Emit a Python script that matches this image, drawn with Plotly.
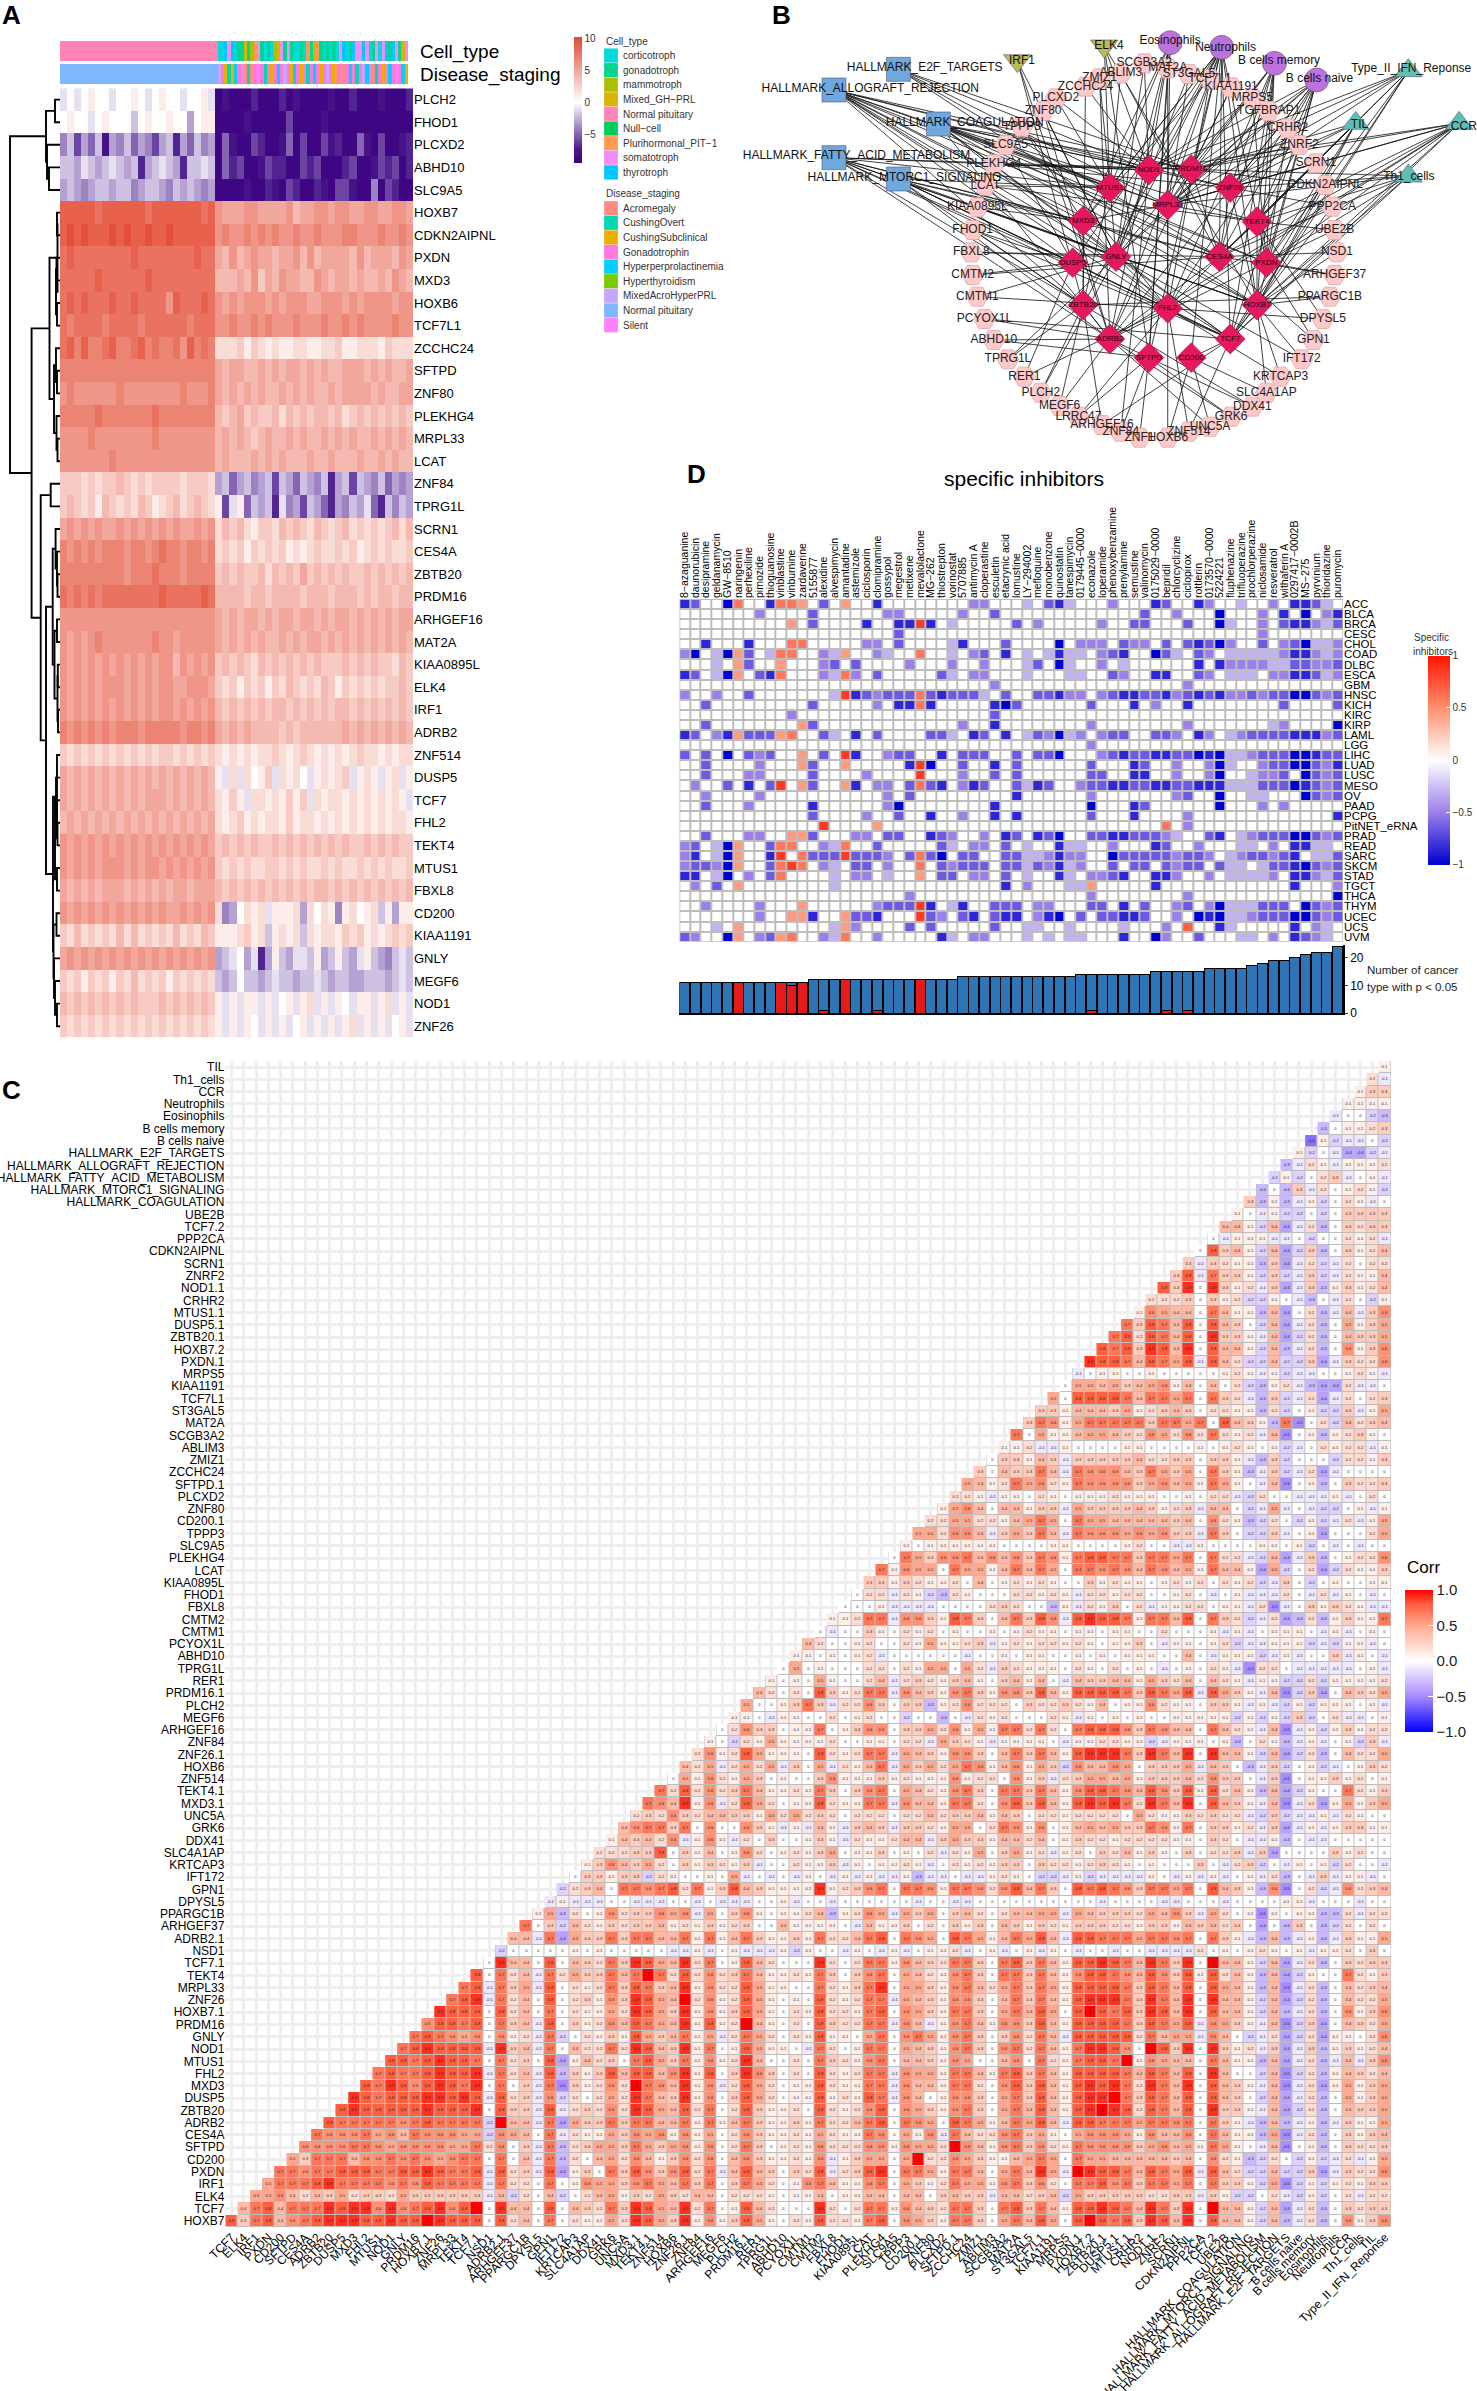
import plotly.graph_objects as go

W, H = 1477, 2391
FONT = "Liberation Sans"

# ---------------- PANEL A data ----------------
A_GENES = ["PLCH2","FHOD1","PLCXD2","ABHD10","SLC9A5","HOXB7","CDKN2AIPNL","PXDN","MXD3","HOXB6","TCF7L1","ZCCHC24","SFTPD","ZNF80","PLEKHG4","MRPL33","LCAT","ZNF84","TPRG1L","SCRN1","CES4A","ZBTB20","PRDM16","ARHGEF16","MAT2A","KIAA0895L","ELK4","IRF1","ADRB2","ZNF514","DUSP5","TCF7","FHL2","TEKT4","MTUS1","FBXL8","CD200","KIAA1191","GNLY","MEGF6","NOD1","ZNF26"]
A_LEFT = ["a0a0100a0010a0100a001a","0100a01000b0100100c011","dbfcebhcdbecdfcbgcebdc","bbcabcbabcbgcbabcgbbab","cbcdcbbcbbdcbbcdbcbcdc","9999989999998999999989","9X9X999X9X99X99X999999","8988888888988888888988","8888898888889888888888","8989888988988886988898","8788887888878888887888","8979778977897877869787","7777777777777777777777","6766666676666666676667","7777787777777877777777","6666766666666766666666","6666666766666666666666","3332323343232333323332","3432314323243123423432","5656565565656565655656","7676767776776787767767","7777777776777877767777","8787878888888898888898","6666666666666666666666","6565676666666766566666","6565656565656566465656","6565656665656566556665","6565656565656566565656","7676767677767777767767","3232323232323233232323","5454545454545454545454","5454545454545554545454","4545454545454545454545","6565656565656565656565","6565656665656656565656","5454545554545454554555","6565656565656565565656","3242323242423232423243","5656565656565656565656","3231323132423231323232","4343434343433343434343","3232323232323232323232"]
A_RIGHT = ["ihiiigiiigihiiiihiigiiihiiig","iiiihiiiiifiiiihiiiiiiiiiiii","iehiifgiiheifiifhgiiehifiihg","iegfiihfggiifgfiiigfiihfgfig","iiiihiighifgiighiffhiidifgii","6555665555645566566556655665","6766767676676676667766676676","5464565545564645555464555465","4445463546554465455454454654","6565666565666556665656666566","6676676766676667667676666766","2223132121122112231122213222","5455445454554545445554545445","5454545445454544545555454455","4345343342434344342343434343","4545434544545445454544545454","4544454545444544544454454544","cbecbdcbfbcebcdbgcbfbcdbecdc","1fa1ebcbgadcfbcegcdbcaegbdbc","2434213324343243234232323424","2323132323121232232312323223","3434334243435343434334343434","4444344344443444344434344344","5454554545545545455454545455","5454545445454554545454545454","3434324343434343334343433243","3231323132432324313232323343","4343434344343434344343434343","5454544443434444445454545454","2121212232123212121232212122","1a2a2013a2120a12123a121a12a1","2131a22121313a2122121212121a","2123121221312212121212121221","3434343343434343434334343433","3232322332323223232232323223","4343434343434344343434343434","2dc0212a1112c2021d12012b1c11","1112312b1212b212213231212323","cba0cagc1bcaab1cb1bca1bcdbab","bcb0bbcbabbcbbabcbbccbbbcbab","1a1a11a1a01a12a1a10a11a12a1a","1a1a10a1a1a01a1a1a12a1a1a01a"]
CELL_TYPES = ["corticotroph","gonadotroph","mammotroph","Mixed_GH−PRL","Normal pituitary","Null−cell","Plurihormonal_PIT−1","somatotroph","thyrotroph"]
CELL_COLORS = ["#00DADA","#00D68F","#AEBF00","#D6B400","#FF83B4","#00CC5C","#FF9B50","#F28CF6","#00C8FF"]
STAGES = ["Acromegaly","CushingOvert","CushingSubclinical","Gonadotrophin","Hyperperprolactinemia","Hyperthyroidism","MixedAcroHyperPRL","Normal pituitary","Silent"]
STAGE_COLORS = ["#FF8C84","#00D8B0","#EEAE00","#FF78DC","#00CFFF","#78CC00","#C6A4FF","#7EB6FF","#FF80FF"]
CELL_LEFT, STAGE_LEFT = 4, 7
CELL_RIGHT = [0,0,8,7,8,0,1,1,3,1,2,6,7,1,0,1,0,2,3,7,1,7,1,0,0,1,0,6,1,3,6,1,0,1,0,1,0,7,8,0,1,8,7,7,8,7,0,1,7,0,7,8,1,8,7,1,3,7]
STAGE_RIGHT = [6,3,2,1,2,4,3,8,0,1,0,3,8,3,1,3,2,3,4,3,6,3,2,4,3,2,3,1,3,4,3,2,3,6,3,2,0,3,0,3,4,3,1,3,6,4,3,0,1,3,2,3,4,3,8,3,4,2]

# hierarchical tree of panel A: (height, child, child); leaves are row numbers
A_TREE = (50, (14, (5, 0, 1), (13, 2, (11, 3, 4))),
          (28.4,
           (10.5, (2.5, (3, 5, 6), (4, (3.5, 7, 8), (3, 9, 10))), (6, (4, 11, (3, 12, 13)), (3.5, 14, (2.5, 15, 16)))),
           (19.3, (9.3, 17, 18),
            (14, (7.3, (4.4, 19, (3, 20, (2.5, 21, 22))), (5.5, (3, 23, 24), (2.5, (2.2, 25, 26), (2, 27, 28)))),
             (7, (3, 29, (5, (4, 30, (3, 31, (2.5, 32, 33))), (3, 34, 35))), (6.5, (3.5, 36, 37), (6, 38, (5, 39, (3, 40, 41)))))))))

# ---------------- PANEL B data ----------------
HUBS = ["NOD1","PRDM16","MTUS1","ZNF26","MRPL33","MXD3","TEKT4","GNLY","CES4A","DUSP5","PXDN","ZBTB20","FHL2","HOXB7","ADRB2","TCF7","SFTPD","CD200"]
HUB_X = [870,960,787,1043,910,730,1100,800,1020,708,1120,730,910,1100,787,1043,870,960]
HUB_Y = [510,508,563,563,615,663,665,770,770,788,788,915,925,915,1017,1017,1073,1073]
RING = ["PLCXD2","ZNF80","TPPP3","SLC9A5","PLEKHG4","LCAT","KIAA0895L","FHOD1","FBXL8","CMTM2","CMTM1","PCYOX1L","ABHD10","TPRG1L","RER1","PLCH2","MEGF6","LRRC47","ARHGEF16","ZNF84","ZNF1","HOXB6","ZNF514","UNC5A","GRK6","DDX41","SLC4A1AP","KRTCAP3","IFT172","GPN1","DPYSL5","PPARGC1B","ARHGEF37","NSD1","UBE2B","PPP2CA","CDKN2AIPNL","SCRN1","ZNRF2","CRHR2","TGFBRAP1","MRPS5","KIAA1191","TCF7L1","ST3GAL5","MAT2A","SCGB3A2","ABLIM3","ZMIZ1","ZCCHC24"]
RING_X = [672,645,600,565,540,522,505,495,492,495,505,520,540,570,605,640,680,720,770,810,850,910,955,1000,1045,1090,1120,1150,1195,1220,1240,1255,1265,1270,1265,1260,1245,1225,1190,1165,1125,1090,1045,1000,955,910,860,810,765,735]
RING_Y = [295,333,380,435,493,557,622,690,757,825,890,957,1020,1078,1130,1178,1218,1250,1275,1295,1313,1313,1295,1280,1250,1220,1178,1130,1078,1020,957,890,825,757,690,620,555,490,435,385,333,295,262,238,222,205,190,220,235,260]
RING_LINKS = [[2,0],[7,14],[5,12],[2,9],[0,1,3],[2,6],[5,13],[11,15,9],[7,8],[9,8],[7,12],[14,15],[16,14],[11,7],[12,9],[7,11],[11,14],[16,12],[15,11],[16,0],[16],[17,4],[15,12],[14,17],[14,16],[16,11],[13,17],[13,12],[13,7],[10,8],[6,12],[13,11],[8,10],[8,13],[6,10],[3,15],[1,13],[4,8],[1,6],[3,10],[4,7],[0,10],[1,14],[12,5],[7,4],[4,16],[0,7],[2,8],[2,14],[0,11]]
OUTER = ["HALLMARK_E2F_TARGETS","HALLMARK_ALLOGRAFT_REJECTION","HALLMARK_COAGULATION","HALLMARK_FATTY_ACID_METABOLISM","HALLMARK_MTORC1_SIGNALING","IRF1","ELK4","Eosinophils","Neutrophils","B cells memory","B cells naive","Type_II_IFN_Reponse","TIL","CCR","Th1_cells"]
OUTER_X = [337,200,422,200,337,590,775,915,1025,1137,1227,1422,1310,1530,1422]
OUTER_Y = [208,270,372,473,537,182,138,128,142,190,240,212,370,370,528]
OUTER_LABEL_X = [393,277,478,248,350,600,785,915,1033,1147,1233,1428,1318,1540,1423]
OUTER_LABEL_Y = [203,267,368,467,535,182,138,122,145,183,238,208,375,382,532]
OUTER_SYMBOL = ["square"]*5 + ["triangle-down"]*2 + ["circle"]*4 + ["triangle-up"]*4
OUTER_COLOR = ["#6FA8DC"]*5 + ["#BDBB52"]*2 + ["#BD72DC"]*4 + ["#5FBFB5"]*4
OUTER_LINKS = [[0,1,4,8,13],[0,1,2,3,4,5,7,8,9,10,11,12,13,15],[0,1,2,3,4,6,7,8,10,12,13,14,15],[0,1,2,5,7,8,9,11,13,14,15],[2,5,8,9,11,12,13,14,15],[7,11,14],[0,2,13,16],[0,2,4,5,7,14,16],[0,1,2,4,5,7,8,9,10,11,13,14,15,16,17],[1,3,4,6,7,8,10,12,13,15],[0,1,3,4,6,7,8,10,12,13,14,15],[0,1,3,4,6,8,10,13,15],[1,3,4,6,8,10,13,15],[0,1,3,4,6,8,10,12,13,14,15],[1,3,4,6,8,10,13,15]]
HUB_LINKS = [[1,4],[3,4],[4,5],[4,6],[5,7],[6,8],[7,12],[8,12],[11,14],[13,15],[14,16],[15,17],[7,15],[8,14],[2,7],[3,8],[9,15],[10,14],[0,7],[1,8],[2,11],[3,13],[4,12],[5,11],[6,13]]

# ---------------- PANEL C data ----------------
C_ROW_LABELS = ["TIL","Th1_cells","CCR","Neutrophils","Eosinophils","B cells memory","B cells naive","HALLMARK_E2F_TARGETS","HALLMARK_ALLOGRAFT_REJECTION","HALLMARK_FATTY_ACID_METABOLISM","HALLMARK_MTORC1_SIGNALING","HALLMARK_COAGULATION","UBE2B","TCF7.2","PPP2CA","CDKN2AIPNL","SCRN1","ZNRF2","NOD1.1","CRHR2","MTUS1.1","DUSP5.1","ZBTB20.1","HOXB7.2","PXDN.1","MRPS5","KIAA1191","TCF7L1","ST3GAL5","MAT2A","SCGB3A2","ABLIM3","ZMIZ1","ZCCHC24","SFTPD.1","PLCXD2","ZNF80","CD200.1","TPPP3","SLC9A5","PLEKHG4","LCAT","KIAA0895L","FHOD1","FBXL8","CMTM2","CMTM1","PCYOX1L","ABHD10","TPRG1L","RER1","PRDM16.1","PLCH2","MEGF6","ARHGEF16","ZNF84","ZNF26.1","HOXB6","ZNF514","TEKT4.1","MXD3.1","UNC5A","GRK6","DDX41","SLC4A1AP","KRTCAP3","IFT172","GPN1","DPYSL5","PPARGC1B","ARHGEF37","ADRB2.1","NSD1","TCF7.1","TEKT4","MRPL33","ZNF26","HOXB7.1","PRDM16","GNLY","NOD1","MTUS1","FHL2","MXD3","DUSP5","ZBTB20","ADRB2","CES4A","SFTPD","CD200","PXDN","IRF1","ELK4","TCF7","HOXB7"]
C_COL_LABELS = C_ROW_LABELS[-2::-1] + ["Type_II_IFN_Reponse"]
# one character per cell, tenths of a correlation: digits positive, a-f negative, X = 1, . = 0
C_CELLS = [
"1",
"2 a",
"1 3 3",
"1 1 1 1",
"a . . b c",
"c . 1 1 2 3",
"f 1 b a a . b",
"1 b . a d d b a",
"c a 2 1 a 1 1 1 2",
"b 1 b . 2 3 a . 1 a",
"c . c 3 a 2 . 1 2 1 b",
"3 c 1 c a 1 b . 2 1 a .",
"1 . a 1 b b . b . 3 3 3 3",
"4 4 1 b 4 d a 2 c . 3 2 3 3",
". a 1 1 1 a a . b . . 2 1 2 a",
". 8 3 4 1 b 4 d b 3 c . 3 1 2 4",
"3 a 3 2 1 1 c 3 d a 2 b a 2 . 2 2",
"3 8 a 7 3 3 1 b 3 b a 3 b a 2 1 1 4",
"8 3 9 . 9 3 1 2 a 3 d a 3 c 1 3 1 2 4",
"2 2 2 3 . 3 1 2 b b 1 . a c . a 2 . b 1",
"1 6 5 4 4 . 7 4 1 1 c 4 d . 2 c a 4 a 3 6",
"7 3 8 7 4 8 . 8 4 3 . b 4 d a 2 c . 5 1 3 5",
"7 8 2 8 7 4 8 . 9 3 3 1 a 4 d b 2 c . 4 3 3 5",
"8 7 8 3 9 8 4 9 . 8 4 4 1 b 4 c a 2 c . 6 1 3 6",
"9 8 8 7 4 8 7 5 8 a 8 4 2 b b 4 b b 3 d a 3 2 2 6",
"a . 1 1 . . 1 . . . . . 1 2 1 a 1 b a a . . 1 2 1 a",
". 5 5 4 5 3 4 5 6 1 4 . 4 . 2 b c 1 2 a c d d 2 a a .",
"5 . 8 8 8 8 7 4 7 7 5 7 . 7 3 2 a c 3 b a 2 d a 2 . 2 3",
"3 3 1 4 4 4 3 5 1 2 3 4 3 . 2 2 1 1 c 2 b . 1 b b 3 a 1 5",
"3 7 6 1 5 7 7 7 7 7 3 7 7 5 7 . 8 4 3 1 c 7 e . 2 b 4 2 3 4",
"7 . 5 1 1 4 5 5 4 3 2 6 5 2 6 2 7 2 1 2 a 4 e . 1 c 1 2 3 1 .",
"1 1 2 a a 1 . . . . 1 1 . . . . 1 . 1 2 1 . 1 b a . 2 1 2 2 a 1",
". 3 3 1 4 3 a 3 3 3 3 3 4 2 2 3 3 . 3 3 1 a c 3 b . . . b 2 2 1 3",
"3 . 4 3 3 7 4 a 7 6 6 6 4 3 7 5 3 5 . 7 3 1 c a 3 b a 2 d a . . . .",
"5 4 1 2 7 5 6 2 1 7 6 6 6 6 3 5 6 4 5 1 7 5 1 . a 4 e . 1 c . 3 2 2 3",
"2 2 1 a 1 1 . 2 1 . 1 1 1 2 1 1 1 . . 1 . 2 2 a b 2 . . a a a 1 a . 2 .",
"1 5 6 4 . 4 4 1 3 3 a 5 3 3 3 3 4 3 1 2 3 a 4 4 . b a 5 a . a b b . 1 a 1",
"2 2 5 5 2 2 1 4 5 7 5 . 7 5 5 4 4 4 4 4 3 4 . 6 2 1 c b 2 . b 1 b a 2 a 1 5",
"5 5 2 6 6 4 a 3 5 3 7 4 a 7 6 6 6 5 6 5 6 3 3 a 7 3 . b b 3 a . 1 d . . . 2 5",
"1 . 1 1 1 1 1 1 . . . . 1 1 . . . . 1 2 . . a a 1 . . . . 1 1 . 1 b . a . a . .",
". 7 5 3 6 6 7 4 6 4 6 3 7 6 1 7 8 8 7 7 3 7 7 5 7 . 7 2 2 a b 4 d a 3 c . 1 2 2 6",
"7 1 6 5 5 . 7 5 5 1 4 7 4 7 5 . 7 7 6 7 6 4 7 6 4 5 1 7 4 4 1 d 5 b . 2 d b 2 1 1 3",
"3 3 1 3 2 1 1 2 . 4 . 1 2 1 2 1 . . 3 1 2 1 1 . 1 2 1 2 . 2 1 2 b a 3 . b . 1 . . 1 1",
". 2 2 a 2 1 b c 2 1 . . . 2 2 1 2 1 a 2 2 1 2 2 . . 1 2 . a . 1 a a a 2 . a 2 a 1 . a .",
". . . 1 a a a a . . . . 2 3 2 . . c 1 a 2 1 3 . 2 a 1 1 2 2 . 1 1 a 2 e a . 3 1 3 2 1 a a",
"1 1 2 7 7 a 6 6 3 1 8 7 3 . 4 7 3 8 6 a 8 9 8 8 7 1 7 7 4 8 . 7 3 2 b a 2 d c 2 c 1 3 1 1 7",
". a . . 3 1 . 2 1 2 . 1 . . 1 . 1 2 1 1 . 1 1 . 1 1 . . 2 . . . 1 a 1 a . 1 1 1 . a 1 a . 1 .",
"4 2 . . 1 2 . . 2 1 5 1 1 2 3 a 1 2 1 2 2 1 2 1 . 1 1 3 . a 1 1 . 1 2 b a a 1 1 1 b a b 1 1 a .",
"1 1 . 1 . 1 2 a . . . . . . a . . 1 . 1 1 . . 1 . 1 . 1 1 1 . . 4 . a 1 1 1 b a 1 a . . 3 a 1 . a",
". 5 . 1 . . . 2 2 . 2 1 5 5 . 5 2 a 3 2 1 1 1 . 2 1 . 2 . 1 . a . 1 . 2 1 a e 2 2 . a a a a a . 1 a",
"1 . 1 . 5 1 . . 2 4 a 2 3 2 1 3 4 1 . 3 4 1 4 . a 4 3 3 4 4 1 5 3 2 4 . 4 2 1 a 1 1 b b 2 b 1 1 1 1 2",
"4 2 . 2 . 8 3 1 2 7 7 a 6 4 3 1 6 7 3 1 6 6 3 8 4 1 8 8 8 8 7 3 8 7 5 8 a 8 5 3 1 a 4 e b 3 d . 4 3 2 5",
"5 . . 1 3 7 3 a 2 2 6 3 . 3 3 c 1 2 6 2 2 2 . 3 2 2 3 2 1 4 . 1 1 6 2 1 1 . 3 3 1 a 1 a b 1 b 1 1 1 . 1 a",
"1 1 . a 1 1 . . 2 . 1 2 . . b . . c . a 2 1 2 . . . 2 1 a 1 . 1 . 1 . . 1 1 1 1 1 b 1 b 1 b 3 b . 2 a a . 1",
". 2 6 3 3 . 1  1 7 . 1 3 6 6 . 3 3 5 2 6 1 5 1 7 7 2 7 2 . 7 8 8 8 6 3 7 6 4 4 . 7 4 2 1 a 4 e a 1 b 1 3 1 2 2",
"1 . b 2 1 5 1 1  1 1 2 . . 1 1 . 2 2 a 5 3 2 1 a 1 1 1 1 . a 1 1 2 2 1 1 b a 1 1 1 . 1 c . 2 1 c a 1 a . 1 b 3 a",
"2 6 1 2 8 5 1 1 1  . 8 2 1 2 7 7 a 5 4 3 1 6 6 3 . 4 7 3 7 4 1 8 9 9 9 7 3 9 7 4 9 . 9 4 4 1 b 4 d b 2 c . 4 2 2 5",
"4 2 5 a 2 5 2 5 a 3  . 5 a 2 1 4 7 a 5 3 5 2 5 7 6 1 4 6 1 5 3 b 6 4 4 6 5 . 3 3 3 5 a 4 3 . c a 3 b . 1 b a . 1 3 2",
". 5 1 6 2 1 5 3 . 1 .  . 3 6 1 1 1 3 1 2 1 1 1 6 1 2 2 . 6 1 3 a 2 3 5 5 4 5 1 3 3 3 4 2 6 3 3 . a 3 e . 1 1 3 1 2 . 1",
"7 2 8 2 6 2 3 7 4 1 1 2  1 7 3 . 3 6 7 . 5 4 2 1 6 7 3 . 7 7 3 7 4 1 6 8 8 7 6 4 8 6 3 8 1 8 2 4 1 c 4 d b 1 . . 7 2 1 3",
"7 6 4 9 1 6 a 2 8 5 2 . 1  1 8 2 1 1 7 7 a 6 4 4 1 7 7 2 . 6 8 3 8 4 1 8 9 8 9 7 2 9 7 4 9 . 8 4 3 1 a 4 e a 2 d 1 5 1 3 5",
"2 3 2 6 3 2 4 4 3 3 1 5 2 5  2 3 2 . 2 2 2 . 2 2 4 2 3 3 4 1 4 3 . 2 2 1 2 2 2 2 . 5 2 1 1 3 2 3 2 2 a b 3 b a a 1 a 2 1 . .",
"4 6 7 7 3 7 . 6 . . 6 3 1 a 1  a 4 1 a 3 4 3 a 3 3 2 1 5 5 . 2 7 6 1 6 . 1 4 5 4 5 3 3 7 6 1 7 . 3 3 1 2 a 3 d a 1 a 1 3 3 1 1",
"1 4 3 4 2 6 a 1 6 1 a 2 . 3 . .  1 3 1 a 2 1 1 2 4 4 a 3 5 3 3 1 4 4 2 4 . 1 3 2 2 1 2 2 2 2 1 1 . 3 2 . a a 1 c . a a . . . . .",
"2 2 2 3 3 8 . 3 1 4 . 1 6 2 . 1 2  1 3 5 . 1 1 3 . 1 . 2 a 2 1 5 . 3 5 1 2 a 1 2 . 3 2 4 1 3 1 . 3 . 2 2 3 a 3 d . . . . 3 1 2 . .",
"1 3 6 4 3 5 2 . 3 1 3 2 1 3 a . . 2  1 1 3 a 1 . 1 1 2 1 a . 2 1 2 1 3 3 . 3 2 2 1 2 3 2 1 . 1 . . . 3 . a 2 3 b . a 1 . 1 b 2 . . a",
"3 3 1 3 3 b 2 1 . . 1 . 5 a . a . a 1  . a 1 a 1 a a 1 c a a . a a 1 2 1 . b b a 1 b a a a a 1 . a 1 a 1 a . 1 a 2 c . a 3 a 1 1 a .",
"b 2 3 4 . 7 7 6 7 8 2 7 1 3 8 4 3 1 1 1  1 9 1 2 3 6 7 . 7 7 6 1 7 7 6 2 6 8 4 7 3 . 8 7 8 7 6 3 7 7 5 7 . 8 4 3 1 c 6 e . 2 b a 6 2 3 4",
"a 1 a a a . . a a a . . a . a a a . . 1 a  . . a . . . . . . a . . a a . . . . . . . . . . a . . . . a a . . . a . . . . 1 1 a . . . a . .",
"1 5 c 2 . 1 6 2 3 3 6 5 6 a 5 . 3 6 1 . 1 1  2 4 c 1 2 6 5 a 5 3 5 . 3 4 2 . 2 4 4 5 5 a 5 4 3 3 3 2 5 4 6 3 a 5 2 . 1 e 1 . 1 1 c c 2 a 2 2",
"7 . 3 b 4 2 1 3 2 3 3 4 1 2 1 3 1 2 3 . . 4 1  1 1 1 . a 4 1 1 3 . 2 . 3 1 3 . 4 3 1 3 2 1 3 3 3 2 2 1 3 3 1 4 3 4 2 3 . d . c 3 . c b 2 . 2 .",
"4 4 a 7 d 5 3 3 7 3 7 7 4 4 7 1 7 1 4 7 3 1 1 3  1 7 2 2 4 7 8 . 7 6 5 . 8 7 5 1 4 7 5 8 4 a 8 8 7 7 7 5 7 7 6 7 . 7 3 1 a c 4 c a 1 c a 3 1 1 5",
"b . . . . . 1 . 1 . . . . . a a 1 a . 1 a a a 1 b  1 . . a 1 . a 1 a . 1 1 2 a . 1 a . 1 a 1 . a . . a . . a a a a 2 . 1 . 1 2 1 . 1 a 1 1 2 . 3 .",
". 9 4 4 . 8 . 4 3 2 7 3 9 8 5 4 9 2 7 . 1 8 4 2 . .  0 9 2 0 2 7 7 1 6 4 3 2 7 7 3 . 7 8 3 7 4 1 8 8 9 8 7 4 9 7 3 9 . X 4 4 1 b 4 d a 2 c . 3 2 3 3",
"8 . 7 2 4 a 7 2 5 3 3 7 4 7 X 7 2 8 2 6 2 3 7 4 1 1 2  1 7 3 . 3 6 7 . 5 4 2 1 6 7 3 . 7 7 3 7 4 1 6 8 8 7 6 4 8 6 3 8 1 8 2 4 1 c 4 d b 1 . . 7 2 1 3",
"7 8 a 7 3 5 a 8 . 2 1 2 7 3 8 7 3 4 9 1 6 2 2 8 5 1 1 .  . 7 2 1 3 7 9 . 5 5 3 1 6 7 4 2 5 7 3 7 5 1 8 8 8 8 7 3 8 7 4 8 . 8 5 4 1 c 4 e a 2 c . 4 2 3 4",
"7 8 9 a 7 2 4 . 8 . 2 3 1 6 3 9 8 5 4 X 2 6 1 2 8 5 1 . 1  . 8 2 1 2 7 7 a 5 4 3 1 6 6 3 . 4 7 3 7 4 1 8 9 9 9 7 3 9 7 4 9 . 9 4 4 1 b 4 d b 2 c . 4 2 2 5",
"9 8 8 8 . 8 2 4 . 7 . 2 1 1 5 2 9 8 5 3 9 1 6 1 3 8 5 1 . 2  1 8 2 2 1 7 8 . 6 5 3 1 7 7 3 . 5 7 4 8 5 . 8 X 8 7 8 3 9 8 4 9 . 8 4 4 1 b 4 c a 2 c . 6 1 3 6",
"6 8 8 7 8 . 7 3 4 a 8 . 3 1 2 6 4 8 7 5 4 9 1 8 1 2 X 4 1 . 2  . 8 3 2 2 7 7 a 6 4 a 1 6 7 4 1 6 6 3 8 4 1 8 8 8 8 7 3 8 7 5 8 a 6 5 3 1 a 4 e b 3 d . 4 3 2 5",
"7 8 7 6 5 6 . 6 1 2 a 7 b . 2 1 3 1 8 5 3 4 7 1 5 a 2 7 5 2 . 2  1 8 1 1 . 5 7 . 6 7 5 1 6 7 3 . 3 6 2 7 4 a 8 8 8 8 8 2 7 4 5 5 a 6 4 . b a 2 d b 2 d 1 1 . 2 6",
"7 8 9 8 8 8 8 a 9 3 4 a 7 . 4 2 2 7 2 9 8 4 3 9 1 7 . 1 8 5 1 1 .  a 7 2 . 1 7 7 . 5 4 3 1 6 7 3 . 6 7 2 7 4 1 7 9 9 8 6 . X 8 3 9 . 9 3 1 2 a 3 d a 3 c 1 3 1 2 4",
"8 8 7 8 9 8 8 7 . 7 2 3 . 8 d 1 4 2 3 . 7 8 5 3 7 1 6 1 2 9 4 . . 2  . 7 3 2 1 6 7 . 4 4 3 1 6 5 . . 4 6 . 7 2 1 7 8 8 7 X 1 6 5 4 4 . 7 4 1 1 c 4 d a 2 c a 4 a 3 6",
"7 8 7 7 8 9 8 8 9 a 7 2 4 a 8 c 3 1 3 8 4 8 8 4 6 9 1 8 . 3 9 6 3 . 2  . 8 2 1 2 7 7 a 6 5 5 1 7 7 4 1 7 8 3 7 4 1 8 8 8 8 7 4 8 7 4 8 . 9 4 . . b 4 e b 2 c 1 4 3 2 4",
"8 7 9 8 6 8 9 8 7 9 . 7 . 3 a 7 e 3 1 2 6 2 X 7 6 4 9 1 6 a 2 8 5 2 . 1  1 8 2 1 1 7 7 a 6 4 4 1 7 7 2 . 6 8 3 8 4 1 8 9 8 9 7 2 9 7 4 9 . 8 4 3 1 a 4 e a 2 d 1 5 1 3 5",
"9 8 7 8 8 8 9 9 8 9 8 a 8 2 3 a 6 b 2 . 2 5 2 9 7 4 3 9 1 6 . 3 8 5 2 . 1  1 8 1 2 1 8 7 a 6 4 . 1 6 6 3 . 5 7 3 8 4 1 8 9 9 X 7 3 8 7 4 8 . 8 4 3 . b 4 d a 2 c . 5 1 3 5",
"8 9 8 8 8 8 8 9 8 8 8 9 . 8 3 3 a 8 a 2 3 2 6 2 9 8 5 4 8 2 7 . 2 8 3 1 1 2  . 8 2 1 2 6 8 . 6 5 3 1 6 7 3 . 5 7 4 8 4 1 8 9 X 9 8 2 8 7 4 8 . 9 3 3 1 a 4 d b 2 c . 4 3 3 5",
"8 7 7 7 7 7 6 7 8 7 7 7 7 b X 4 4 a 7 d 5 3 3 7 3 7 7 4 4 7 1 7 1 4 7 3 1 1 3  1 7 2 2 4 7 8 . 7 6 5 . 8 7 5 1 4 7 5 8 4 a 8 8 7 7 7 5 7 7 6 7 . 7 3 1 a c 4 c a 1 c a 3 1 1 5",
"7 6 6 6 7 5 6 4 7 6 6 6 5 5 b 6 5 4 . 7 a 2 1 1 5 3 6 5 6 1 6 1 5 . 2 6 3 1 1 2  1 5 2 1 1 7 6 . 5 1 6 a 7 4 2 2 6 7 3 5 1 . 5 6 6 6 5 1 6 4 4 6 . 7 4 1 1 c 5 e a 2 c . 3 1 3 4",
"6 6 6 6 7 7 6 5 6 6 6 6 5 5 7 2 6 . 3 a 7 c 2 3 5 5 3 7 5 3 5 6 1 6 . 2 7 3 . 1 2  1 6 2 2 2 6 6 1 6 5 5 2 X 6 4 1 6 7 3 6 2 1 7 6 6 6 6 3 5 6 4 5 1 7 5 1 . a 4 e . 1 c . 3 2 2 3",
"5 3 7 7 7 4 6 6 7 6 7 6 5 6 7 7 . 7 . 4 a 7 c 2 . 4 5 2 6 4 1 3 6 2 6 . 4 6 3 1 1 2  1 6 a 1 3 5 5 . 5 X 2 2 6 5 3 1 1 4 5 7 5 . 7 5 5 4 4 4 4 4 3 4 . 6 2 1 c b 2 . b 1 b a 2 a 1 5",
"7 7 6 7 7 8 8 8 7 7 8 8 9 8 7 7 8 a 8 2 3 a 8 d 1 3 . 7 3 8 6 3 6 8 2 7 a 4 8 4 3 . 3  2 8 a 2 3 8 9 . 7 7 5 1 7 7 4 . 5 7 4 9 5 a X 9 8 8 7 4 8 7 5 8 a 8 4 2 b b 4 b b 3 d a 3 2 2 6",
"7 5 7 7 7 8 9 7 7 7 7 6 7 6 8 7 7 7 7 a 7 2 2 . 7 . 1 6 5 5 3 6 7 5 4 7 3 7 . 3 7 5 2 . 1  6 7 4 1 1 6 7 . 5 3 1 2 7 5 5 1 6 7 3 6 2 . 7 7 8 6 7 3 7 7 5 7 . 7 3 3 1 b 5 e b 1 b 1 2 1 3 3",
"5 5 6 4 2 4 3 5 2 3 3 2 5 3 3 3 3 3 3 a 4 b 2 . 4 b . 2 4 5 1 3 2 5 3 2 4 4 . 2 2 2 1 . 1  1 4 . 1 1 4 4 . 4 4 . 3 4 3 3 a 4 4 2 3 4 b 5 3 3 3 3 3 2 2 3 3 a 3 1 b b . 2 a b 1 b . 2 a 2 2",
"4 7 8 4 7 7 7 9 8 9 9 6 9 6 7 8 9 6 8 X . 9 4 4 . 8 . 4 3 2 7 3 9 8 5 4 9 2 7 . 1 8 4 2 . .  0 9 2 0 2 7 7 1 6 4 3 2 7 7 3 . 7 8 3 7 4 1 8 8 9 8 7 4 9 7 3 9 . X 4 4 1 b 4 d a 2 c . 3 2 3 3",
"8 3 7 8 4 6 7 8 9 9 9 8 8 9 8 8 X 9 8 8 8 . 8 2 4 . 7 . 2 1 1 5 2 9 8 5 3 9 1 6 1 3 8 5 1 . 2  1 8 2 2 1 7 8 . 6 5 3 1 7 7 3 . 5 7 4 8 5 . 8 X 8 7 8 3 9 8 4 9 . 8 4 4 1 b 4 c a 2 c . 6 1 3 6",
]

# ---------------- PANEL D data ----------------
D_DRUGS = ["8−azaguanine","daunorubicin","desipramine","geldanamycin","GW−8510","naringenin","perhexiline","pimozide","thioguanosine","vinblastine","vinburnine","zardaverine","5155877","alexidine","alvespimycin","amantadine","astemizole","ciclosporin","clomipramine","gossypol","megestrol","metixene","mevalolactone","MG−262","thiostrepton","vorinostat","5707885","antimycin A","cloperastine","esculetin","etacrynic acid","lomustine","LY−294002","mefloquine","monobenzone","quinostatin","tanespimycin","0179445−0000","econazole","loperamide","phenoxybenzamine","prenylamine","semustine","valinomycin","0175029−0000","bepridil","chlorcyclizine","ciclopirox","rottlerin","0173570−0000","5224221","fluphenazine","trifluoperazine","prochlorperazine","niclosamide","resveratrol","withaferin A","0297417−0002B","MS−275","pyrvinium","thioridazine","puromycin"]
D_CANCERS = ["ACC","BLCA","BRCA","CESC","CHOL","COAD","DLBC","ESCA","GBM","HNSC","KICH","KIRC","KIRP","LAML","LGG","LIHC","LUAD","LUSC","MESO","OV","PAAD","PCPG","PitNET_eRNA","PRAD","READ","SARC","SKCM","STAD","TGCT","THCA","THYM","UCEC","UCS","UVM"]
D_LEVELS = {"a":-0.3,"b":-0.5,"c":-0.65,"d":-0.85,"e":-1.0,"r":0.45,"s":0.6,"t":0.85,"u":0.7}
D_CELLS = [
"0d 1c 4e 5s 8d 9s 10s 11r 13c 15r 18d 27b 28b 32a 34c 35d 36a 40b 44d 45c 48d 49b 52a 55b 57d 58d 59c 60a",
"7b 12c 19b 20b 26b 29c 43c 46b 50e 54b 56d 58e 60b 61d",
"10r 12c 17d 20d 21d 22t 23d 25a 31c 33b 39b 42c 43c 47c 50e 51a 54b 56c 57d 58d 59b 60a 61c",
"20c 54b",
"2d 6d 10s 11s 17b 18b 20c 25a 26d 30c 35e 37b 38b 39b 41c 42b 43b 45c 47c 48d 49c 50e 51b 54c 56b 57c 58e 59a 60a 61b",
"0b 1e 3a 4e 5r 6c 8a 9s 10s 13b 14a 15r 18b 19a 22s 25a 27b 28c 30d 32a 34a 35d 36a 37a 39b 40c 41d 44e 45c 46a 48c 49b 51a 52a 53a 54a 55a 56b 57d 58d 59b 60a 61b",
"3a 5r 6c 9r 13b 14c 16c 21b 25b 28b 32a 33c 35e 36a 39b 41a 48d 50d 51b 52b 53b 54b 55a 56a 57c 58c 59b 60b 61c",
"0d 1c 3a 4e 5r 7c 8d 9s 13b 14a 15s 16b 18c 24c 25a 27b 28b 32a 36a 37a 40c 41b 44d 45d 48c 49b 51a 52a 53a 55b 56b 57d 58d 59c 60a 61b",
"29b 47b",
"0b 3b 6c 14a 15t 16d 17c 18b 19c 20c 21c 22s 23c 24d 25c 26c 27c 28a 30c 33c 34c 35d 36b 37b 39b 40c 41d 42d 43c 44c 45d 46b 47c 48d 49c 50d 51b 52b 53c 54b 55c 56c 57e 58e 59c 60b 61c",
"2c 12c 18b 20d 21d 22s 23d 29d 30e 31c 38c 42d 44b 47d 56c 61c",
"10b 29c",
"2c 11r 12c 26b 29d 38b 47b 55a 56b 61e",
"0d 1c 3b 4d 5r 6c 7c 8c 9r 10s 13c 14a 16d 18c 23c 24c 25a 27d 28c 30d 32a 33c 34b 35e 36a 37b 39b 40c 41c 44c 45c 46b 48d 49b 51a 52b 53c 54c 55c 56c 57d 58d 59d 60b 61c",
"38b",
"0c 2c 4e 6c 7b 8c 11r 13c 15t 16d 19b 20c 21c 24d 26c 27c 28c 31c 33c 34c 35e 39b 40c 41d 42c 43c 44d 45d 46c 47c 48e 49d 50e 51a 52a 53b 54c 55c 56c 57e 58e 59d 60c 61c",
"2c 7b 11r 12c 15r 21d 22t 23e 26c 29d 31c 38c 42d 43c 46b 49b 50e 51a 54b 55c 56c 57e 58e 59c 60b 61d",
"2c 6b 7b 12c 17b 22t 26b 29c 31c 38c 39c 42d 43d 46b 49b 50e 53a 54b 55b 56c 58e 59c 60b 61c",
"1b 4c 6d 8c 9t 11r 12c 15r 16d 18b 19b 21c 22s 23c 24d 26b 27d 28c 31c 32a 33d 34c 37b 38c 39c 40d 41d 42c 43c 44d 45d 46c 47c 48d 49d 50d 51a 52a 53a 54c 55c 56c 57e 58d 59c 60b 61c",
"2b 7b 19b 21c 31d 38b 46b 47c 50e 53a 54a 58e 59c 60b 61c",
"2c 6b 12d 19b 20e 29d 38e 42d 43c 50e 54b 56b",
"12c 17b 20c 23d 26b 29d 31d 38c 42d 47b 61d",
"13t 18r 45s 47b",
"2c 6b 7b 10r 11r 12c 16b 17b 19c 20c 23d 24c 25b 28b 30d 31c 33d 34c 35e 38c 39c 40d 41d 42c 43c 44c 45b 46a 49c 50d 52a 53b 54c 55c 56c 57e 58e 59c 60b 61c",
"0b 1c 3a 4e 5r 8c 9s 10s 13b 14a 15s 18c 24c 25a 27b 28b 30c 32a 35d 36a 37a 40b 44d 45c 48b 52a 53a 55b 57d 58d 59a 60a",
"0b 1d 3a 4e 5r 8d 9t 11s 12c 13c 14c 15t 16c 17c 18c 19b 21c 22s 23c 24e 26c 27c 30c 31c 32a 33a 34b 35d 36b 37b 40e 41c 42c 43c 44c 45c 46b 47c 48c 49b 51a 52b 53c 54c 55b 56c 57d 59a 60a 61c",
"0b 1c 2c 3b 4e 5r 8c 9s 10t 11s 13b 14a 16c 17c 19b 22s 24c 25b 26c 27c 28c 30c 31c 32a 33c 34b 35d 36a 37b 40c 42c 43c 45c 46b 47c 48c 50c 51a 52a 54a 55c 56c 57d 58e 59c 60b 61c",
"0d 1d 3a 4e 6b 8c 9s 14a 16b 17b 19a 22r 24c 25c 27b 28b 30c 32a 35d 36a 38b 39b 40c 41d 44d 45d 46b 49b 51a 52a 53a 54a 55b 57d 58d 59b 60a 61c",
"1b 3c 5r 14a 30d 32b 36a 37a 38r 44d 57d 61b",
"21b 38b 47b 61e",
"2b 7b 11r 18b 19c 20c 21c 22t 23d 25a 26d 29c 30c 31c 33b 34b 38c 39c 41d 43c 46b 47c 49b 50e 51a 52a 53a 54c 55c 56c 58e 59c 60b 61c",
"7b 10r 11r 12d 15r 16c 17c 18d 22t 23c 24b 26c 27d 29c 30d 31d 33b 34d 35e 37c 39c 40c 41d 42d 43c 46b 48e 49d 50e 51a 52a 53b 54c 55c 56c 57e 58e 59c 60b 61c",
"3a 5r 14a 15r 16b 21c 23c 29c 32a 33a 36a 41a 45b 47u 50d 51a 57d 59b 60a",
"0c 1b 4e 5r 7b 8c 9r 10s 13b 14a 15s 18b 24d 25a 27b 28b 32a 34a 36a 37a 41d 44e 45b 48c 52a 53a 55b 57d 58c 59b 60a",
]
BAR_BLUE = [11,11,11,11,11,0,11,11,11,0,1,0, 12,11,12,0,12,12,11,12,12,12,0,12,12,12, 13,13,13,13,13,13,13,13,13,13,13, 14,13,14,14,14,14,14, 15,14,15,14,15, 16,16,16,16, 17,18,19,19,20,21,22,22,24]
BAR_RED  = [0,0,0,0,0,11,0,0,0,11,10,11, 0,1,0,12,0,0,1,0,0,0,12,0,0,0, 0,0,0,0,0,0,0,0,0,0,0, 0,1,0,0,0,0,0, 0,1,0,1,0, 0,0,0,0, 0,0,0,0,0,0,0,0,0]
BAR_TICKS = [0,10,20]

# ---------------- helpers ----------------
def xd(a, b): return [a / W, b / W]
def yd(a, b): return [1 - b / H, 1 - a / H]

CODE = {"a":-1,"b":-2,"c":-3,"d":-4,"e":-5,"f":-6,"g":-7,"h":-8,"i":-9,"X":10,".":0}
def a_val(ch): return int(ch) if ch.isdigit() else CODE[ch]
def fit(s, n): return (s + s[-1] * n)[:n]

fig = go.Figure()
layout = dict(width=W, height=H, autosize=False, margin=dict(l=0, r=0, t=0, b=0, autoexpand=False),
              paper_bgcolor="white", plot_bgcolor="white", showlegend=False,
              font=dict(family=FONT, color="black"), barmode="stack", bargap=0.06)
blank = dict(showgrid=False, zeroline=False, showticklabels=False, ticks="", showline=False)
def axes(n, xdom, ydom, xextra, yextra):
    xn = "xaxis" if n == 1 else f"xaxis{n}"
    yn = "yaxis" if n == 1 else f"yaxis{n}"
    layout[xn] = {**blank, "domain": xdom, "anchor": "y" if n == 1 else f"y{n}", **xextra}
    layout[yn] = {**blank, "domain": ydom, "anchor": "x" if n == 1 else f"x{n}", **yextra}
    return ("x" if n == 1 else f"x{n}", "y" if n == 1 else f"y{n}")

# ---------------- Panel A ----------------
A_SCALE = [[0,"#3B007F"],[0.11,"#4A1A8C"],[0.24,"#8C6CB8"],[0.48,"#FFFFFF"],[1,"#E34A33"]]
ax, ay = axes(1, xd(60, 413), yd(88.3, 1037.5),
              dict(range=[-0.5, 49.5]),
              dict(range=[41.5, -0.5], side="right", showticklabels=True, tickmode="array",
                   tickvals=list(range(len(A_GENES))), ticktext=A_GENES, tickfont=dict(size=13, family=FONT), ticklen=0))
A_Z = [[a_val(c) for c in fit(l, 22) + fit(r, 28)] for l, r in zip(A_LEFT, A_RIGHT)]
fig.add_trace(go.Heatmap(z=A_Z, x=list(range(50)), y=list(range(42)), xaxis=ax, yaxis=ay, colorscale=A_SCALE,
                         zmin=-9.5, zmax=10.3, hoverinfo="skip",
                         colorbar=dict(x=574/W, xanchor="left", y=1-37/H, yanchor="top", len=126, lenmode="pixels", thickness=8,
                                       xpad=0, ypad=0, outlinewidth=0, tickvals=[-5,0,5,10], ticks="", tickfont=dict(size=10, color="#333"))))

# dendrogram
def tree_segments(node, xs, ys):
    if isinstance(node, int):
        return 0.0, float(node)
    h, a, b = node
    ha, ya = tree_segments(a, xs, ys)
    hb, yb = tree_segments(b, xs, ys)
    xs += [ha, h, h, hb, None]
    ys += [ya, ya, yb, yb, None]
    return h, (ya + yb) / 2
dx, dy = [], []
tree_segments(A_TREE, dx, dy)
dax, day = axes(2, xd(0, 60), yd(88.3, 1037.5), dict(range=[60, 0]), dict(range=[41.5, -0.5]))
fig.add_trace(go.Scatter(x=dx, y=dy, xaxis=dax, yaxis=day, mode="lines", line=dict(color="black", width=1.9), hoverinfo="skip"))

def stepped(colors):
    n = len(colors); out = []
    for i, c in enumerate(colors):
        out += [[i / n, c], [(i + 1) / n, c]]
    return out
cell_row = [CELL_LEFT] * 48 + CELL_RIGHT
stage_row = [STAGE_LEFT] * 48 + STAGE_RIGHT
ncol = len(cell_row)
cx, cy = axes(3, xd(60, 408), yd(41, 61), dict(range=[-0.5, ncol-0.5]), dict(range=[0, 1]))
sx, sy = axes(4, xd(60, 408), yd(64, 84), dict(range=[-0.5, ncol-0.5]), dict(range=[0, 1]))
fig.add_trace(go.Heatmap(z=[cell_row], x=list(range(ncol)), y=[0.5], xaxis=cx, yaxis=cy, colorscale=stepped(CELL_COLORS), zmin=-0.5, zmax=8.5, showscale=False, hoverinfo="skip"))
fig.add_trace(go.Heatmap(z=[stage_row], x=list(range(ncol)), y=[0.5], xaxis=sx, yaxis=sy, colorscale=stepped(STAGE_COLORS), zmin=-0.5, zmax=8.5, showscale=False, hoverinfo="skip"))

shapes, annos = [], []
def text(x, y, s, size, anchor="left", **kw):
    annos.append(dict(x=x / W, y=1 - y / H, xref="paper", yref="paper", text=s, showarrow=False, xanchor=anchor, yanchor="middle",
                      font=dict(size=size, family=FONT, color=kw.pop("color", "black"), weight=kw.pop("weight", "normal")), align="left"))
text(418, 52, "Cell_type", 19)
text(418, 75, "Disease_staging", 19)
text(604, 41, "Cell_type", 10, color="#333")
for i, (n, c) in enumerate(zip(CELL_TYPES, CELL_COLORS)):
    y0 = 48.3 + 14.6 * i
    shapes.append(dict(type="rect", xref="paper", yref="paper", x0=604/W, x1=618/W, y0=1-y0/H, y1=1-(y0+14.6)/H, fillcolor=c, line=dict(width=0.3, color="white")))
    text(621, y0 + 7.3, n, 10, color="#333")
text(604, 194, "Disease_staging", 10, color="#333")
for i, (n, c) in enumerate(zip(STAGES, STAGE_COLORS)):
    y0 = 201 + 14.6 * i
    shapes.append(dict(type="rect", xref="paper", yref="paper", x0=604/W, x1=618/W, y0=1-y0/H, y1=1-(y0+14.6)/H, fillcolor=c, line=dict(width=0.3, color="white")))
    text(621, y0 + 7.3, n, 10, color="#333")

# ---------------- Panel B ----------------
bx, by = axes(5, xd(740, 1477), yd(0, 480), dict(range=[0, 1568]), dict(range=[1440, 0]))
ex, ey = [], []
for i, links in enumerate(RING_LINKS):
    for h in links:
        ex += [RING_X[i], HUB_X[h], None]; ey += [RING_Y[i], HUB_Y[h], None]
for i, links in enumerate(OUTER_LINKS):
    for h in links:
        ex += [OUTER_X[i], HUB_X[h], None]; ey += [OUTER_Y[i], HUB_Y[h], None]
for a, b in HUB_LINKS:
    ex += [HUB_X[a], HUB_X[b], None]; ey += [HUB_Y[a], HUB_Y[b], None]
fig.add_trace(go.Scatter(x=ex, y=ey, xaxis=bx, yaxis=by, mode="lines", line=dict(color="#111", width=0.8), hoverinfo="skip"))
fig.add_trace(go.Scatter(x=RING_X, y=RING_Y, xaxis=bx, yaxis=by, mode="markers+text", text=RING, textposition="middle center",
                         textfont=dict(size=12, color="#222"), marker=dict(symbol="hexagon2", size=22, color="#FFC9C9", line=dict(color="#DDA8A8", width=0.8)), hoverinfo="skip"))
fig.add_trace(go.Scatter(x=OUTER_X, y=OUTER_Y, xaxis=bx, yaxis=by, mode="markers",
                         marker=dict(symbol=OUTER_SYMBOL, size=24, color=OUTER_COLOR, line=dict(color="#557", width=0.6)), hoverinfo="skip"))
fig.add_trace(go.Scatter(x=OUTER_LABEL_X, y=OUTER_LABEL_Y, xaxis=bx, yaxis=by, mode="text", text=OUTER, textposition="middle center",
                         textfont=dict(size=12, color="#111"), hoverinfo="skip"))
fig.add_trace(go.Scatter(x=HUB_X, y=HUB_Y, xaxis=bx, yaxis=by, mode="markers+text", text=HUBS, textposition="middle center",
                         textfont=dict(size=8, color="#220010"), marker=dict(symbol="diamond", size=23, color="#E5185D", line=dict(color="#B0144A", width=0.6)), hoverinfo="skip"))

# ---------------- Panel D ----------------
D_SCALE = [[0,"#0000D0"],[0.25,"#9B7FEA"],[0.5,"#FFFFFF"],[0.75,"#FF9070"],[1,"#FF1500"]]
D_Z = [[0.0] * len(D_DRUGS) for _ in D_CANCERS]
for r, row in enumerate(D_CELLS):
    for tok in row.split():
        D_Z[r][int(tok[:-1])] = D_LEVELS[tok[-1]]
nc, nr = len(D_DRUGS), len(D_CANCERS)
gx, gy = axes(6, xd(679.3, 1343), yd(599, 941.7),
              dict(range=[-0.5, nc-0.5], side="top", showticklabels=True, tickmode="array", tickvals=list(range(nc)), ticktext=D_DRUGS,
                   tickangle=-90, tickfont=dict(size=10.5, family=FONT), ticklen=0),
              dict(range=[nr-0.5, -0.5], side="right", showticklabels=True, tickmode="array", tickvals=list(range(nr)), ticktext=D_CANCERS,
                   tickfont=dict(size=11.5, family=FONT), ticklen=0))
fig.add_trace(go.Heatmap(z=[[1]*nc for _ in range(nr)], x=list(range(nc)), y=list(range(nr)), xaxis=gx, yaxis=gy,
                         colorscale=[[0,"#BDBDBD"],[1,"#BDBDBD"]], zmin=0, zmax=1, showscale=False, hoverinfo="skip"))
fig.add_trace(go.Heatmap(z=D_Z, x=list(range(nc)), y=list(range(nr)), xaxis=gx, yaxis=gy, colorscale=D_SCALE, zmin=-1, zmax=1,
                         xgap=2, ygap=2, hoverinfo="skip",
                         colorbar=dict(x=1427.6/W, xanchor="left", y=1-655.7/H, yanchor="top", len=209, lenmode="pixels", thickness=22,
                                       xpad=0, ypad=0, outlinewidth=0, tickvals=[-1,-0.5,0,0.5,1], ticktext=["−1","−0.5","0","0.5","1"],
                                       ticks="inside", ticklen=4, tickcolor="white", tickfont=dict(size=10, color="#333"))))
hx, hy = axes(7, xd(679.3, 1343), yd(945, 1013),
              dict(range=[-0.5, nc-0.5], showline=True, linecolor="black", linewidth=1.5),
              dict(range=[0, 24.55], side="right", showticklabels=True, tickmode="array", tickvals=BAR_TICKS, ticks="outside", ticklen=3,
                   showline=True, linecolor="black", linewidth=1.5, tickfont=dict(size=12, family=FONT)))
fig.add_trace(go.Bar(x=list(range(nc)), y=BAR_RED, xaxis=hx, yaxis=hy, marker=dict(color="#E41A1C", line=dict(color="black", width=1)), hoverinfo="skip"))
fig.add_trace(go.Bar(x=list(range(nc)), y=BAR_BLUE, xaxis=hx, yaxis=hy, marker=dict(color="#2F74B5", line=dict(color="black", width=1)), hoverinfo="skip"))
text(1024, 479, "specific inhibitors", 21, anchor="center")
text(1412, 637, "Specific", 10, color="#333")
text(1411, 651, "inhibitors", 10, color="#333")
text(1365, 970, "Number of cancer", 11.5, color="#222")
text(1365, 987, "type with p &lt; 0.05", 11.5, color="#222")

# ---------------- Panel C ----------------
C_SCALE = [[0,"#0000FF"],[0.25,"#A88BFF"],[0.5,"#FFFFFF"],[0.75,"#FFA88E"],[0.9,"#FF5F3E"],[1,"#FF0000"]]
def c_val(ch):
    if ch == "X": return 1.0
    if ch == ".": return 0.0
    if ch.isdigit(): return int(ch) / 10
    return -(ord(ch) - 96) / 10
n = len(C_ROW_LABELS)
C_Z, C_T, C_B = [], [], []
for r, s in enumerate(C_CELLS):
    s = s.replace(" ", "")
    need = r + 1
    s = ("." * need + s)[-need:]
    vals = [None] * (n - need) + [c_val(ch) for ch in s]
    C_Z.append(vals)
    C_T.append(["" if v is None else f"{v:g}" for v in vals])
    C_B.append([None if v is None else 1 for v in vals])
kx, ky = axes(8, xd(225.4, 1391), yd(1061, 2227),
              dict(range=[-0.5, 94.5], showgrid=True, gridcolor="#EFEFEF", gridwidth=3, showticklabels=True, tickmode="array",
                   tickvals=list(range(n)), ticktext=C_COL_LABELS, tickangle=-45, tickfont=dict(size=12, family=FONT), ticklen=0),
              dict(range=[94.5, -0.5], showgrid=True, gridcolor="#EFEFEF", gridwidth=3, showticklabels=True, tickmode="array",
                   tickvals=list(range(n)), ticktext=C_ROW_LABELS, tickfont=dict(size=12, family=FONT), ticklen=0))
fig.add_trace(go.Heatmap(z=C_B, x=list(range(n)), y=list(range(n)), xaxis=kx, yaxis=ky, colorscale=[[0,"#BDBDBD"],[1,"#BDBDBD"]],
                         zmin=0, zmax=1, showscale=False, hoverinfo="skip"))
fig.add_trace(go.Heatmap(z=C_Z, x=list(range(n)), y=list(range(n)), xaxis=kx, yaxis=ky, colorscale=C_SCALE, zmin=-1, zmax=1, xgap=1, ygap=1,
                         text=C_T, texttemplate="%{text}", textfont=dict(size=4, color="#222"), hoverinfo="skip",
                         colorbar=dict(x=1405/W, xanchor="left", y=1-1590/H, yanchor="top", len=142, lenmode="pixels", thickness=28,
                                       xpad=0, ypad=0, outlinewidth=0, tickvals=[-1,-0.5,0,0.5,1], ticktext=["−1.0","−0.5","0.0","0.5","1.0"],
                                       ticks="inside", ticklen=5, tickcolor="white", tickfont=dict(size=15, color="#222"))))
text(1405, 1567, "Corr", 17)

for s, x, y in [("A", 0, 15), ("B", 770, 15), ("C", 0, 1090), ("D", 685, 474)]:
    text(x, y, s, 26, weight="bold")

layout["shapes"] = shapes
layout["annotations"] = annos
fig.update_layout(**layout)
fig.write_html("out.html", config={"displayModeBar": False}, post_script="document.body.style.margin='0';")
